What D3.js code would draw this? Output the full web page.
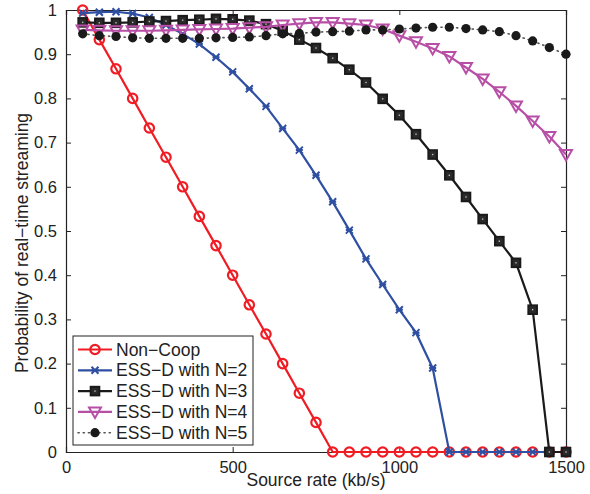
<!DOCTYPE html>
<html>
<head>
<meta charset="utf-8">
<script src="https://cdn.jsdelivr.net/npm/d3@7"></script>
<style>
  body { margin: 0; background: #fff; }
  svg { display: block; font-family: "Liberation Sans", Arial, Helvetica, sans-serif; }
</style>
</head>
<body>
<svg id="chart" width="590" height="494"></svg>
<script>
// ---- data ----
const sourceRates = [50,100,150,200,250,300,350,400,450,500,550,600,650,700,750,800,850,900,950,1000,1050,1100,1150,1200,1250,1300,1350,1400,1450,1500];

const nonCoop = [1.000,0.933,0.867,0.800,0.733,0.667,0.600,0.533,0.467,0.400,0.333,0.267,0.200,0.133,0.067,0,0,0,0,0,0,0,0,0,0,0,0,0,0,0];

const essN2 = [0.993,0.995,0.996,0.992,0.983,0.966,0.946,0.923,0.893,0.860,0.822,0.782,0.732,0.683,0.626,0.566,0.502,0.437,0.379,0.322,0.270,0.190,0,0,0,0,0,0,0,0];

const essN3 = [0.972,0.971,0.971,0.972,0.974,0.975,0.977,0.978,0.980,0.979,0.976,0.968,0.953,0.933,0.914,0.891,0.865,0.836,0.799,0.762,0.719,0.673,0.626,0.577,0.527,0.477,0.428,0.322,0,0];

const essN4 = [0.955,0.954,0.953,0.953,0.953,0.954,0.955,0.956,0.957,0.958,0.960,0.962,0.966,0.969,0.972,0.972,0.969,0.966,0.957,0.942,0.928,0.913,0.895,0.870,0.844,0.815,0.783,0.749,0.714,0.673];

const essN5 = [0.946,0.942,0.940,0.937,0.936,0.936,0.936,0.936,0.937,0.938,0.939,0.942,0.946,0.947,0.950,0.951,0.952,0.955,0.955,0.957,0.959,0.961,0.961,0.958,0.955,0.951,0.942,0.930,0.915,0.900];

const seriesNames = ["Non\u2212Coop","ESS\u2212D with N=2","ESS\u2212D with N=3","ESS\u2212D with N=4","ESS\u2212D with N=5"];
const xTicks = [0,500,1000,1500];
const yTicks = [0,0.1,0.2,0.3,0.4,0.5,0.6,0.7,0.8,0.9,1];
const xLabel = "Source rate (kb/s)";
const yLabel = "Probability of real\u2212time streaming";

// ---- styles ----
const series = [
  {name: seriesNames[0], values: nonCoop, color: "#f01c24", marker: "circle", dash: null},
  {name: seriesNames[1], values: essN2, color: "#2f4fa2", marker: "x", dash: null},
  {name: seriesNames[2], values: essN3, color: "#1a1a1a", marker: "square", dash: null},
  {name: seriesNames[3], values: essN4, color: "#b84fa6", marker: "triangle", dash: null},
  {name: seriesNames[4], values: essN5, color: "#1a1a1a", marker: "dot", dash: "1.2,4", lineColor: "#555"}
];

const svg = d3.select("#chart");
const m = {left: 66, top: 10, right: 24, bottom: 42};
const W = 590, H = 494;
const iw = W - m.left - m.right, ih = H - m.top - m.bottom;

const x = d3.scaleLinear().domain([0,1500]).range([m.left, m.left + iw]);
const y = d3.scaleLinear().domain([0,1]).range([m.top + ih, m.top]);

// axes with inward ticks
const fmtY = d => d === 0 ? "0" : d === 1 ? "1" : d3.format(".1f")(d);
const axB = svg.append("g").attr("transform", `translate(0,${m.top+ih})`)
  .call(d3.axisBottom(x).tickValues(xTicks).tickSize(-5).tickPadding(9).tickFormat(d3.format("d")));
const axT = svg.append("g").attr("transform", `translate(0,${m.top})`)
  .call(d3.axisTop(x).tickValues(xTicks).tickSize(-5).tickFormat(""));
const axL = svg.append("g").attr("transform", `translate(${m.left},0)`)
  .call(d3.axisLeft(y).tickValues(yTicks).tickSize(-5).tickPadding(9).tickFormat(fmtY));
const axR = svg.append("g").attr("transform", `translate(${m.left+iw},0)`)
  .call(d3.axisRight(y).tickValues(yTicks).tickSize(-5).tickFormat(""));
[axB, axT, axL, axR].forEach(a => {
  a.select(".domain").attr("stroke", "#222").attr("stroke-width", 1.2);
  a.selectAll(".tick line").attr("stroke", "#222").attr("stroke-width", 1);
  a.selectAll(".tick text").attr("font-size", 16.5).attr("fill", "#222")
    .attr("font-family", "'Liberation Sans', Arial, sans-serif");
});

// axis labels
svg.append("text").attr("x", x(750)).attr("y", 486).attr("text-anchor","middle")
  .attr("font-size", 17.5).attr("fill","#222").text(xLabel);
svg.append("text").attr("transform", `translate(28,${y(0.5)+12}) rotate(-90)`)
  .attr("text-anchor","middle").attr("font-size", 17.5).attr("fill","#222").text(yLabel);

// marker drawing
function drawMarker(g, type, color) {
  if (type === "circle") {
    g.append("circle").attr("r", 4.7).attr("fill", "none").attr("stroke", color).attr("stroke-width", 2.2);
  } else if (type === "x") {
    g.append("path").attr("d", "M-3.5,-3.5L3.5,3.5M-3.5,3.5L3.5,-3.5M-3.5,0L3.5,0")
      .attr("stroke", color).attr("stroke-width", 2).attr("fill","none");
  } else if (type === "square") {
    g.append("rect").attr("x", -4.3).attr("y", -4.3).attr("width", 8.6).attr("height", 8.6)
      .attr("fill", "#2a2a2a").attr("stroke", color).attr("stroke-width", 2);
    g.append("rect").attr("x", -0.7).attr("y", -0.7).attr("width", 1.4).attr("height", 1.4).attr("fill", "#bbb");
  } else if (type === "triangle") {
    g.append("path").attr("d", "M-6,-4.5L6,-4.5L0,6Z").attr("fill", "none")
      .attr("stroke", color).attr("stroke-width", 2).attr("stroke-linejoin","miter");
  } else if (type === "dot") {
    g.append("circle").attr("r", 4.6).attr("fill", color);
  }
}

const line = d3.line().x((d,i) => x(sourceRates[i])).y(d => y(d));
const plot = svg.append("g");
series.forEach(s => {
  const g = plot.append("g");
  g.append("path").datum(s.values).attr("d", line).attr("fill","none")
    .attr("stroke", s.lineColor || s.color).attr("stroke-width", s.dash ? 1.6 : 2.2)
    .attr("stroke-dasharray", s.dash).attr("stroke-linecap", s.dash ? "round" : "butt");
  s.values.forEach((v,i) => {
    const mg = g.append("g").attr("transform", `translate(${x(sourceRates[i])},${y(v)})`);
    drawMarker(mg, s.marker, s.color);
  });
});

// legend
const lg = svg.append("g");
lg.append("rect").attr("x", 73).attr("y", 336).attr("width", 180).attr("height", 109)
  .attr("fill", "#fff").attr("stroke", "#222").attr("stroke-width", 1);
series.forEach((s,i) => {
  const cy = 349.5 + i * 20.8;
  lg.append("line").attr("x1", 78).attr("x2", 112).attr("y1", cy).attr("y2", cy)
    .attr("stroke", s.lineColor || s.color).attr("stroke-width", s.dash ? 1.6 : 2.2)
    .attr("stroke-dasharray", s.dash).attr("stroke-linecap", s.dash ? "round" : "butt");
  const mg = lg.append("g").attr("transform", `translate(95,${cy})`);
  drawMarker(mg, s.marker, s.color);
  lg.append("text").attr("x", 116).attr("y", cy).attr("dy", "0.35em")
    .attr("font-size", 17.5).attr("fill", "#222").text(s.name);
});
</script>
</body>
</html>
